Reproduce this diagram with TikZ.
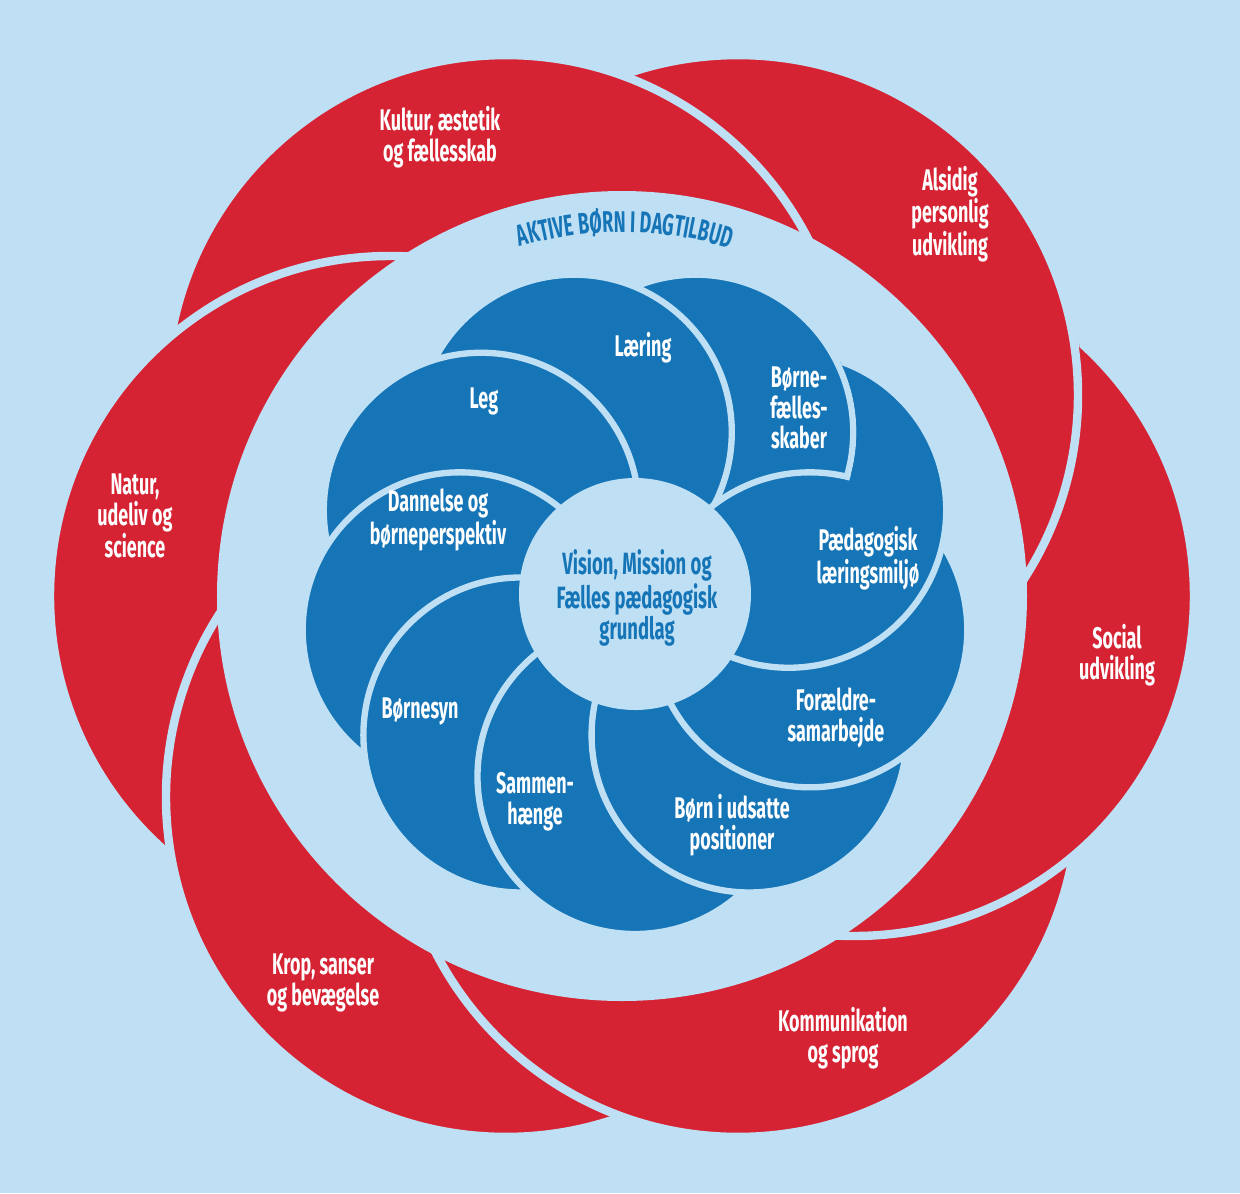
\documentclass[tikz,border=0pt]{standalone}
\usepackage{fontspec}
\setmainfont{Fira Sans}[FakeStretch=0.6]
\usepackage{tikz}
\usetikzlibrary{decorations.text}
\definecolor{skyblue}{RGB}{190,223,244}
\definecolor{rosered}{RGB}{214,35,52}
\definecolor{swirlblue}{RGB}{22,117,183}
\newcommand{\labelfont}{\bfseries\fontsize{17}{17.5}\selectfont}
\newcommand{\aktivefont}{\bfseries\fontsize{17}{17}\selectfont}

\begin{document}
\begin{tikzpicture}[redcirc/.style={fill=rosered, draw=skyblue, line width=4.8pt}, bluecirc/.style={fill=swirlblue, draw=skyblue, line width=3.6pt}, redlabel/.style={text=white, font=\labelfont, align=center}, bluelabel/.style={text=white, font=\labelfont, align=center}, centerlabel/.style={text=swirlblue, font=\bfseries\fontsize{17.5}{18}\selectfont, align=center}]

    %Background
    \fill[skyblue] (-12.44,-11.94) rectangle (12.36,11.92);
    \useasboundingbox (-12.44,-11.94) rectangle (12.36,11.92);

    %Red circles
    \draw[redcirc] (0:4.64) circle[radius=6.8];   % social
    \draw[redcirc] (60:4.64) circle[radius=6.8];  % alsidig
    \draw[redcirc] (120:4.64) circle[radius=6.8]; % kultur
    \draw[redcirc] (180:4.64) circle[radius=6.8]; % natur
    \draw[redcirc] (240:4.64) circle[radius=6.8]; % krop
    \draw[redcirc] (300:4.64) circle[radius=6.8]; % kommunikation
    \begin{scope}[even odd rule]
        \clip (-12.44,-11.94) rectangle (12.36,11.92) (60:4.64) circle[radius=6.9];
        \draw[redcirc] (0:4.64) circle[radius=6.8];
    \end{scope}
    \fill[skyblue] (0,0) circle[radius=8.1];

    %Blue circles
    \begin{scope}[shift={(0.26,-0.06)}]
        \draw[bluecirc] (30:3.55) circle[radius=3.15];  % paedagogisk
        \draw[bluecirc] (70:3.55) circle[radius=3.15];  % faellesskaber
        \draw[bluecirc] (110:3.55) circle[radius=3.15]; % laering
        \draw[bluecirc] (150:3.55) circle[radius=3.15]; % leg
        \draw[bluecirc] (190:3.55) circle[radius=3.15]; % dannelse
        \draw[bluecirc] (230:3.55) circle[radius=3.15]; % boernesyn
        \draw[bluecirc] (270:3.55) circle[radius=3.15]; % sammenhaenge
        \draw[bluecirc] (310:3.55) circle[radius=3.15]; % udsatte
        \draw[bluecirc] (350:3.55) circle[radius=3.15]; % foraeldre
        \begin{scope}[even odd rule]
            \clip (-12.7,-11.9) rectangle (12.1,12) (70:3.55) circle[radius=3.22];
            \draw[bluecirc] (30:3.55) circle[radius=3.15];
        \end{scope}
        \fill[skyblue] (0,0.1) circle[radius=2.32];
    \end{scope}

    %Ring text
    \path[decorate, decoration={text along path, text={|\aktivefont|AKTIVE BØRN I DAGTILBUD}, text color=swirlblue, text align=center}] (106.5:7.28) arc[start angle=106.5, end angle=72.5, radius=7.28];

    %Nodes
    \node[redlabel] (kultur) at (-3.64,9.18) {Kultur, æstetik\\og fællesskab};
    \node[redlabel] (alsidig) at (6.56,7.64) {Alsidig\\personlig\\udvikling};
    \node[redlabel] (social) at (9.9,-1.18) {Social\\udvikling};
    \node[redlabel] (kommunikation) at (4.42,-8.84) {Kommunikation\\og sprog};
    \node[redlabel] (krop) at (-5.98,-7.74) {Krop, sanser\\og bevægelse};
    \node[redlabel] (natur) at (-9.74,1.6) {Natur,\\udeliv og\\science};

    \node[bluelabel] (laering) at (0.42,4.96) {Læring};
    \node[bluelabel] (leg) at (-2.76,3.9) {Leg};
    \node[bluelabel] (dannelse) at (-3.68,1.52) {Dannelse og\\børneperspektiv};
    \node[bluelabel] (boernesyn) at (-4.04,-2.3) {Børnesyn};
    \node[bluelabel] (sammenhaenge) at (-1.74,-4.12) {Sammen-\\hænge};
    \node[bluelabel] (udsatte) at (2.2,-4.58) {Børn i udsatte\\positioner};
    \node[bluelabel] (foraeldre) at (4.28,-2.44) {Forældre-\\samarbejde};
    \node[bluelabel] (paedagogisk) at (4.92,0.76) {Pædagogisk\\læringsmiljø};
    \node[bluelabel] (faellesskaber) at (3.54,3.76) {Børne-\\fælles-\\skaber};

    \node[centerlabel] (vision) at (0.3,-0.04) {Vision, Mission og\\Fælles pædagogisk\\grundlag};

\end{tikzpicture}
\end{document}
